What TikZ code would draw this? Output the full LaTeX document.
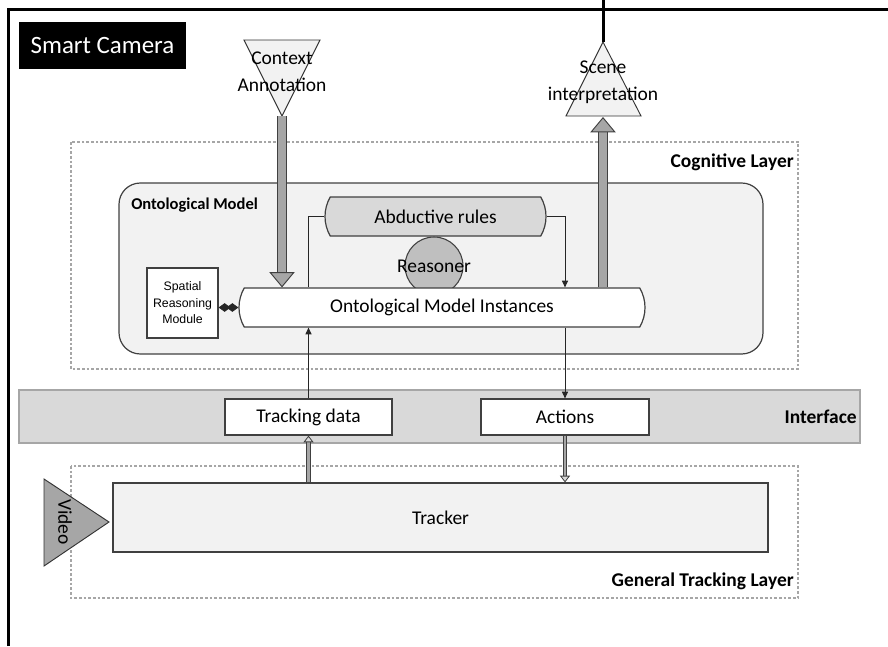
\documentclass[tikz,border=0pt]{standalone}
\usepackage{fontspec}
\setmainfont{Carlito}
\newfontfamily\arialfont{Liberation Sans}
\usetikzlibrary{arrows.meta,shapes.misc}

\definecolor{palegray}{HTML}{F2F2F2}
\definecolor{abdgray}{HTML}{D9D9D9}
\definecolor{rsngray}{HTML}{BFBFBF}
\definecolor{arrowgray}{HTML}{A6A6A6}
\definecolor{linegray}{HTML}{404040}
\definecolor{dashgray}{HTML}{A6A6A6}

\tikzset{
  base/.style={font=\fontsize{14.6}{20}\selectfont, inner sep=0pt},
  layerbox/.style={draw=dashgray, line width=1pt, dash pattern=on 2pt off 1.5pt},
  layername/.style={font=\bfseries\fontsize{14.6}{17}\selectfont, inner sep=0pt, anchor=east},
  plainbox/.style={base, draw=linegray, line width=0.9pt, fill=white},
  pill/.style={base, rounded rectangle, rounded rectangle arc length=60, draw=linegray, line width=0.9pt},
  tri/.style={draw=black!80, line width=0.7pt, fill=palegray},
  wire/.style={draw=black!85, line width=0.7pt},
  wirearrow/.style={wire, -{Triangle[length=5pt,width=4.5pt]}},
  fatarrow/.style={draw=arrowgray, line width=5.5pt,
    preaction={draw=linegray, line width=7pt, -, shorten >=11pt},
    -{Triangle[length=11.5pt,width=19pt,line width=0.7pt,color=linegray,fill=arrowgray]}},
  thinpipe/.style={draw=arrowgray, line width=2.2pt,
    preaction={draw=linegray, line width=3.6pt, -, shorten >=4pt},
    -{Triangle[length=5pt,width=7.5pt,line width=0.6pt,color=linegray,fill=abdgray]}},
}

\begin{document}
\begin{tikzpicture}[x=0.75pt, y=-0.75pt]
\useasboundingbox (0,0) rectangle (888,646);

% outer frame and title
\draw[line width=2.25pt] (8,646) -- (8,9) -- (888,9);
\node[base, fill=black, text=white, font=\fontsize{18.7}{22}\selectfont,
  minimum width=125.25pt, minimum height=35.25pt] (cam) at (102.5,45.5) {Smart Camera};

% layers
\draw[layerbox] (71,142) rectangle (798,369);
\node[layername] (coglbl) at (794,162) {Cognitive Layer};
\draw[layerbox] (71,466) rectangle (798,598);
\node[layername] (gtllbl) at (794,581) {General Tracking Layer};

% ontological model
\node[draw=linegray, line width=0.9pt, fill=palegray, rounded corners=16pt,
  minimum width=483pt, minimum height=128.25pt] (om) at (441,268.5) {};
\node[font=\bfseries\fontsize{12.4}{15}\selectfont, inner sep=0pt, anchor=west] (omlbl) at (131,205) {Ontological Model};

\node[circle, draw=linegray, line width=0.8pt, fill=rsngray, minimum size=43.5pt, inner sep=0pt] (rsn) at (434,266) {};
\node[pill, fill=abdgray, minimum width=165.75pt, minimum height=29.25pt] (abd) at (435.5,216.5) {Abductive rules};
\node[pill, fill=white, minimum width=304.5pt, minimum height=29.25pt] (omi) at (442,307.5) {Ontological Model Instances};
\node[base] (rsnlbl) at (rsn) {Reasoner};

\node[plainbox, font=\arialfont\fontsize{9.25}{12.4}\selectfont, align=center,
  minimum width=53.25pt, minimum height=52.5pt] (srm) at (182.5,303) {Spatial\\Reasoning\\Module};

% interface
\node[fill=abdgray, draw=dashgray, line width=1.5pt, minimum width=630.75pt, minimum height=39.75pt] (intf) at (439.5,416.5) {};
\node[layername] (intlbl) at (857,417) {Interface};
\node[plainbox, minimum width=125.25pt, minimum height=27pt] (td) at (308.5,417) {Tracking data};
\node[plainbox, minimum width=126pt, minimum height=27pt] (act) at (565,417) {Actions};

% tracking layer
\node[plainbox, fill=palegray, minimum width=491.25pt, minimum height=51.75pt] (trk) at (440.5,517.5) {Tracker};
\draw[tri, fill=arrowgray] (44,479) -- (44,566) -- (109,522) -- cycle;
\node[base, rotate=-90] (vid) at (65,522) {Video};

% inputs and outputs
\draw[tri] (244,40) -- (320,40) -- (282,116) coordinate (ctxtip) -- cycle;
\node[base, align=center] (ctx) at (282,72) {Context\\Annotation};
\draw[tri] (566,116) -- (641,116) -- (603,42) coordinate (scntip) -- cycle;
\node[base, align=center] (scn) at (603,82) {Scene\\interpretation};
\coordinate (scnbase) at (603,117);
\coordinate (topedge) at (603,0);
\draw[line width=2.25pt] (scntip) -- (topedge);

% connectors
\draw[fatarrow] (ctxtip) -- (ctxtip |- omi.north);
\draw[fatarrow] (scnbase |- omi.north) -- (scnbase);
\draw[wire] (abd.west) -| (td.north |- omi.north);
\draw[wirearrow] (abd.east) -| (act.north |- omi.north);
\draw[wire, {Diamond[length=9pt,width=6.5pt]}-{Diamond[length=9pt,width=6.5pt]}] (srm.east |- omi.west) -- (omi.west);
\draw[wirearrow] (td.north) -- (td.north |- omi.south);
\draw[wirearrow] (act.north |- omi.south) -- (act.north);
\draw[thinpipe] (td.south |- trk.north) -- (td.south);
\draw[thinpipe] (act.south) -- (act.south |- trk.north);
\end{tikzpicture}
\end{document}
